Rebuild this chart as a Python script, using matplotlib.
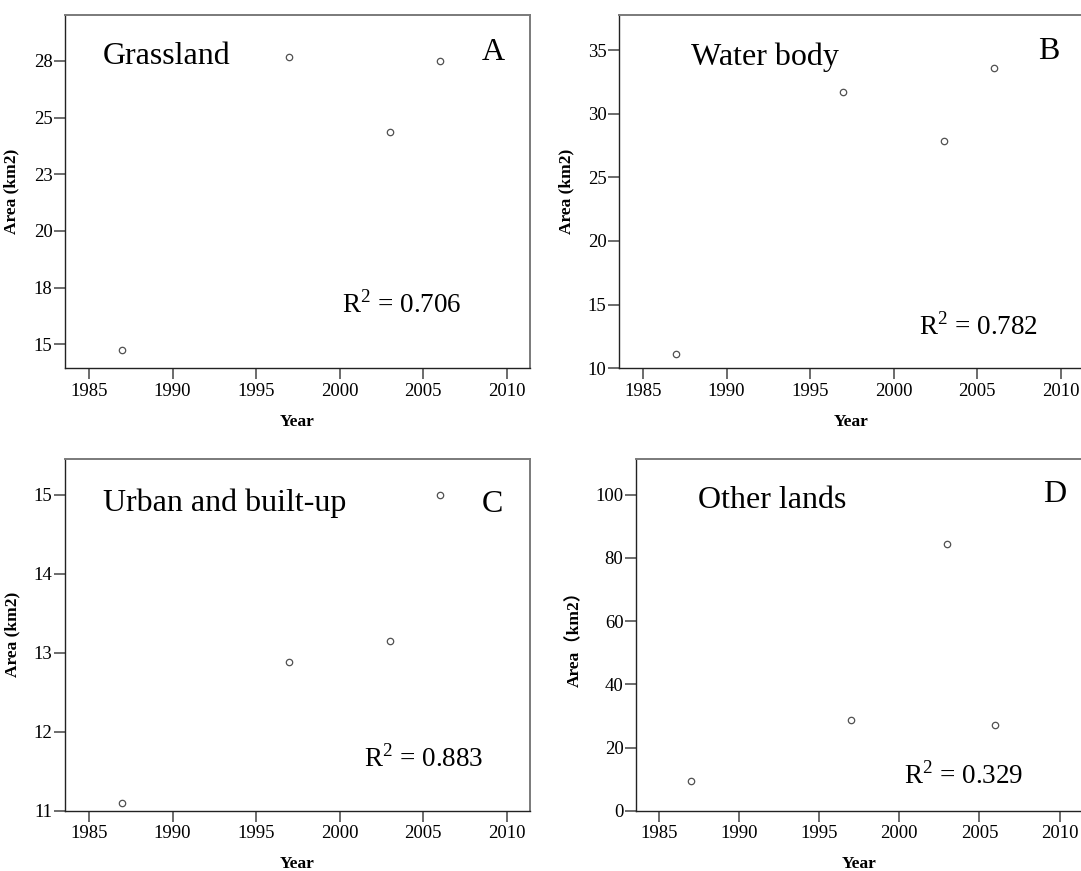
import matplotlib
matplotlib.use('Agg')
import matplotlib.pyplot as plt
from matplotlib.ticker import FixedLocator, FixedFormatter

plt.rcParams['font.family'] = ['Liberation Serif', 'Noto Sans CJK SC', 'DejaVu Sans']
plt.rcParams['mathtext.fontset'] = 'custom'
plt.rcParams['mathtext.rm'] = 'Liberation Serif'

# data
years = [1987, 1997, 2003, 2006]
grassland = [14.75, 27.69, 24.38, 27.5]
water_body = [11.13, 31.70, 27.86, 33.56]
urban = [11.10, 12.88, 13.15, 15.0]
other_lands = [9.4, 28.6, 84.3, 27.0]

names = ['Grassland', 'Water body', 'Urban and built-up', 'Other lands']
letters = ['A', 'B', 'C', 'D']
r2_values = ['0.706', '0.782', '0.883', '0.329']
x_ticks = [1985, 1990, 1995, 2000, 2005, 2010]

y_ticks = [[15, 17.5, 20, 22.5, 25, 27.5], [10, 15, 20, 25, 30, 35],
           [11, 12, 13, 14, 15], [0, 20, 40, 60, 80, 100]]
y_ticklabels = [['15', '18', '20', '23', '25', '28'], ['10', '15', '20', '25', '30', '35'],
                ['11', '12', '13', '14', '15'], ['0', '20', '40', '60', '80', '100']]
y_limits = [(13.94, 29.54), (10, 37.78), (11, 15.45), (0, 111.3)]
ylabels = ['Area (km2)', 'Area (km2)', 'Area (km2)', 'Area\uff08km2\uff09']

# text positions (data coords): name, letter, R2
name_pos = [(1985.8, 27.68), (1987.9, 34.47), (1985.86, 14.89), (1987.43, 98.3)]
letter_pos = [(2009.2, 27.85), (2009.3, 34.87), (2009.15, 14.87), (2009.7, 100.0)]
r2_pos = [(2000.15, 16.73), (2001.5, 13.23), (2001.47, 11.66), (2000.3, 11.0)]

series = [grassland, water_body, urban, other_lands]

fig = plt.figure(figsize=(10.81, 8.71), dpi=100)
rects = [[0.0601, 0.5772, 0.4302, 0.4060],
         [0.5726, 0.5772, 0.4302, 0.4060],
         [0.0601, 0.0692, 0.4302, 0.4038],
         [0.5883, 0.0692, 0.4126, 0.4038]]
ylab_x = [-0.097, -0.096, -0.095, -0.119]

for i in range(4):
    ax = fig.add_axes(rects[i])
    ax.plot(years, series[i], 'o', markersize=4.6, markerfacecolor='none',
            markeredgecolor='#505050', markeredgewidth=0.9)
    ax.set_xlim(1983.56, 2011.4)
    ax.set_ylim(*y_limits[i])
    ax.set_xticks(x_ticks)
    ax.set_xticklabels([str(t) for t in x_ticks])
    ax.yaxis.set_major_locator(FixedLocator(y_ticks[i]))
    ax.yaxis.set_major_formatter(FixedFormatter(y_ticklabels[i]))
    ax.tick_params(axis='both', direction='out', length=8, width=1.1, color='#444444',
                   labelsize=13.5, labelcolor='black')
    ax.tick_params(axis='x', pad=2.5)
    ax.tick_params(axis='y', pad=1)
    for side in ['left', 'bottom']:
        ax.spines[side].set_color('#222222')
        ax.spines[side].set_linewidth(1.0)
    for side in ['top', 'right']:
        ax.spines[side].set_color('#7a7a7a')
        ax.spines[side].set_linewidth(1.4)

    ax.set_xlabel('Year', fontsize=12.5, fontweight='bold')
    ax.xaxis.set_label_coords(0.5, -0.13)
    ax.set_ylabel(ylabels[i], fontsize=12.5, fontweight='bold')
    ax.yaxis.set_label_coords(ylab_x[i], 0.5)

    ax.text(name_pos[i][0], name_pos[i][1], names[i], fontsize=23, ha='left', va='center')
    ax.text(letter_pos[i][0], letter_pos[i][1], letters[i], fontsize=23, ha='center', va='center')
    ax.text(r2_pos[i][0], r2_pos[i][1], 'R$^2$ = ' + r2_values[i], fontsize=19.5,
            ha='left', va='center')

fig.savefig('out.png', dpi=100)
